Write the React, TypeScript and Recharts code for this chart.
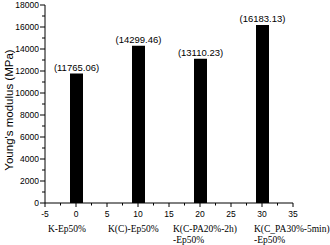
import { BarChart, Bar, XAxis, YAxis, LabelList } from 'recharts';

const positions = [0, 10, 20, 30];
const modulus = [11765.06, 14299.46, 13110.23, 16183.13];
const categoryLines = [
  ['K-Ep50%'],
  ['K(C)-Ep50%'],
  ['K(C-PA20%-2h)', '-Ep50%'],
  ['K(C_PA30%-5min)', '-Ep50%'],
];
const xTicks = [-5, -2.5, 0, 2.5, 5, 7.5, 10, 12.5, 15, 17.5, 20, 22.5, 25, 27.5, 30, 32.5, 35];
const xMajorTicks = [-5, 0, 5, 10, 15, 20, 25, 30, 35];
const yTicks = [0, 1000, 2000, 3000, 4000, 5000, 6000, 7000, 8000, 9000, 10000, 11000, 12000, 13000, 14000, 15000, 16000, 17000, 18000];
const yMajorTicks = [0, 2000, 4000, 6000, 8000, 10000, 12000, 14000, 16000, 18000];
const yTitle = "Young's modulus (MPa)";

const data = positions.map((x, i) => ({ x, value: modulus[i] }));

// left edge of each category caption, relative to its tick
const captionDx = [-28, -30, -27, -8];

const sans = 'Liberation Sans, Arial, sans-serif';
const serif = 'Liberation Serif, Times New Roman, serif';

const XTick = (props: any) => {
  const { x, y, payload } = props;
  const v = payload.value;
  const major = xMajorTicks.includes(v);
  const ci = positions.indexOf(v);
  return (
    <g>
      <line x1={x} x2={x} y1={y} y2={y + (major ? 4 : 2.5)} stroke="#000" strokeWidth={1} />
      {major && (
        <text x={x} y={y + 14} textAnchor="middle" fontSize={8.5} fontFamily={sans} fill="#000">
          {v}
        </text>
      )}
      {ci >= 0 && (
        <text x={x + captionDx[ci]} y={y + 29} fontSize={9.5} fontFamily={serif} fill="#000">
          {categoryLines[ci].map((line, j) => (
            <tspan key={j} x={x + captionDx[ci]} dy={j === 0 ? 0 : 11}>
              {line}
            </tspan>
          ))}
        </text>
      )}
    </g>
  );
};

const YTick = (props: any) => {
  const { x, y, payload } = props;
  const v = payload.value;
  const major = yMajorTicks.includes(v);
  return (
    <g>
      <line x1={x} x2={x - (major ? 5 : 3)} y1={y} y2={y} stroke="#000" strokeWidth={1} />
      {major && (
        <text x={x - 6} y={y + 3} textAnchor="end" fontSize={8.5} fontFamily={sans} fill="#000">
          {v}
        </text>
      )}
    </g>
  );
};

const YTitle = () => (
  <text
    x={13}
    y={110}
    transform="rotate(-90, 13, 110)"
    textAnchor="middle"
    fontSize={11.5}
    fontFamily={sans}
    fill="#000"
  >
    {yTitle}
  </text>
);

export default function App() {
  return (
    <div style={{ position: 'absolute', left: 0, top: 0, background: '#fff' }}>
      <BarChart width={330} height={245} data={data} margin={{ top: 5, right: 37, left: 0, bottom: 0 }}>
        <XAxis
          dataKey="x"
          type="number"
          domain={[-5, 35]}
          ticks={xTicks}
          interval={0}
          tickSize={0}
          tickMargin={0}
          tickLine={false}
          tick={<XTick />}
          height={42}
          axisLine={{ stroke: '#000' }}
        />
        <YAxis
          type="number"
          domain={[0, 18000]}
          ticks={yTicks}
          interval={0}
          tickSize={0}
          tickMargin={0}
          tickLine={false}
          tick={<YTick />}
          width={45}
          axisLine={{ stroke: '#000' }}
          label={{ content: <YTitle /> }}
        />
        <Bar dataKey="value" fill="#000" barSize={13} isAnimationActive={false}>
          <LabelList
            dataKey="value"
            position="top"
            offset={3}
            formatter={(v: any) => `(${Number(v).toFixed(2)})`}
            style={{ fontSize: 9.5, fontFamily: sans, fill: '#000' }}
          />
        </Bar>
      </BarChart>
    </div>
  );
}
